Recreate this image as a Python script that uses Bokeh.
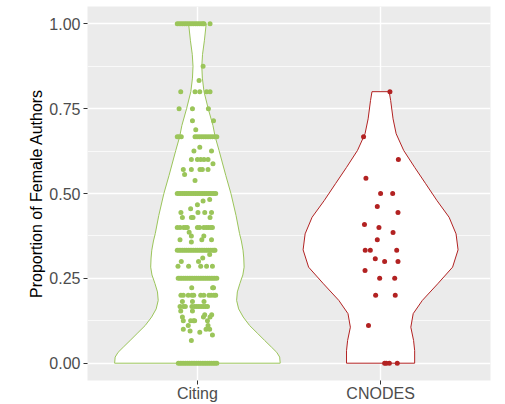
from bokeh.plotting import figure
from bokeh.models import FactorRange, Range1d, FixedTicker, NumeralTickFormatter
from bokeh.embed import file_html
from bokeh.resources import INLINE

# ---------------- data ----------------
categories = ["Citing", "CNODES"]
colors = ["#9BC55A", "#B22222"]

y_ticks = [0.0, 0.25, 0.5, 0.75, 1.0]
y_minor = [0.125, 0.375, 0.625, 0.875]

# violin outlines: y level and half width (category units)
citing_violin_y = [0.0, 0.018, 0.032, 0.047, 0.067, 0.0875, 0.111, 0.136, 0.16, 0.185,
                   0.21, 0.235, 0.26, 0.283, 0.31, 0.333, 0.36, 0.382, 0.435, 0.5,
                   0.553, 0.627, 0.667, 0.70, 0.75, 0.80, 0.84, 0.875, 0.91, 0.95, 1.0]
citing_violin_hw = [0.452, 0.449, 0.433, 0.405, 0.367, 0.329, 0.285, 0.25, 0.225, 0.214,
                    0.218, 0.232, 0.248, 0.255, 0.253, 0.249, 0.24, 0.23, 0.211, 0.183,
                    0.155, 0.118, 0.097, 0.085, 0.059, 0.036, 0.027, 0.024, 0.028, 0.038, 0.048]

cnodes_violin_y = [0.0, 0.037, 0.067, 0.106, 0.146, 0.185, 0.234, 0.283, 0.334, 0.381,
                   0.43, 0.479, 0.529, 0.577, 0.627, 0.676, 0.72, 0.774, 0.80]
cnodes_violin_hw = [0.186, 0.186, 0.18, 0.165, 0.178, 0.228, 0.312, 0.393, 0.423, 0.412,
                    0.374, 0.308, 0.246, 0.186, 0.126, 0.085, 0.068, 0.055, 0.047]

# jittered points: proportion and horizontal jitter offset
citing_rows = [
    (1.0, [-0.11, -0.1, -0.09, -0.08, -0.07, -0.06, -0.05, -0.04, -0.03, -0.02, -0.01,
           0.0, 0.01, 0.02, 0.03, 0.036, 0.069]),
    (0.875, [0.031]),
    (0.833, [0.009]),
    (0.80, [-0.091, -0.013, 0.013, 0.05, 0.069]),
    (0.75, [-0.1, -0.027, 0.06]),
    (0.714, [-0.027, 0.088]),
    (0.6875, [-0.009]),
    (0.667, [-0.11, -0.1, -0.088, -0.013, -0.002, 0.01, 0.022, 0.034, 0.046, 0.058,
             0.07, 0.082, 0.094, 0.106]),
    (0.636, [0.013]),
    (0.625, [-0.019, 0.077]),
    (0.60, [-0.033, 0.0, 0.018, 0.036, 0.058]),
    (0.588, [0.085]),
    (0.571, [-0.077, -0.033, 0.014, 0.027, 0.058]),
    (0.556, [-0.07]),
    (0.538, [-0.013]),
    (0.5, [-0.11, -0.1, -0.09, -0.08, -0.07, -0.06, -0.05, -0.04, -0.03, -0.02, -0.01,
           0.0, 0.01, 0.02, 0.03, 0.04, 0.05, 0.06, 0.07, 0.08, 0.09, 0.1]),
    (0.482, [0.067]),
    (0.478, [0.031]),
    (0.467, [0.0]),
    (0.455, [-0.037]),
    (0.444, [-0.09, 0.003, 0.04, 0.077]),
    (0.429, [-0.082, -0.033, -0.024, 0.069]),
    (0.40, [-0.11, -0.095, -0.075, -0.064, -0.055, 0.0, 0.012, 0.035, 0.048, 0.06, 0.073, 0.082]),
    (0.386, [-0.045]),
    (0.375, [-0.033, 0.035]),
    (0.364, [-0.095, 0.024, 0.077]),
    (0.357, [-0.033]),
    (0.333, [-0.11, -0.1, -0.09, -0.08, -0.07, -0.06, -0.05, -0.04, -0.03, -0.02, -0.01,
             0.0, 0.01, 0.02, 0.03, 0.04, 0.05, 0.06, 0.07, 0.08, 0.09, 0.096]),
    (0.32, [0.067]),
    (0.31, [0.029]),
    (0.30, [-0.088, 0.006]),
    (0.286, [-0.106, -0.048, 0.018, 0.05, 0.082]),
    (0.25, [-0.105, -0.095, -0.085, -0.075, -0.065, -0.055, -0.045, -0.035, -0.025, -0.015,
            -0.005, 0.005, 0.015, 0.025, 0.035, 0.045, 0.055, 0.065, 0.075, 0.085, 0.095, 0.106]),
    (0.222, [-0.031, 0.083, 0.088]),
    (0.2, [-0.09, -0.077, -0.05, -0.03, -0.02, 0.018, 0.035, 0.063, 0.075, 0.09, 0.1]),
    (0.182, [-0.082, -0.027, 0.036]),
    (0.167, [-0.095, -0.077, -0.066, -0.03, -0.016, -0.004, 0.008, 0.02, 0.032, 0.044, 0.055]),
    (0.154, [-0.091, -0.027]),
    (0.143, [0.04, 0.078]),
    (0.136, [-0.082, 0.033, 0.069]),
    (0.125, [-0.077, -0.037, -0.022, -0.015, 0.055]),
    (0.111, [-0.05, 0.058]),
    (0.1, [-0.077, 0.047, 0.067]),
    (0.095, [-0.04]),
    (0.091, [0.013]),
    (0.083, [0.082]),
    (0.067, [-0.033]),
    (0.0, [-0.104, -0.094, -0.084, -0.074, -0.064, -0.054, -0.044, -0.034, -0.024, -0.014,
           -0.004, 0.006, 0.016, 0.026, 0.036, 0.046, 0.056, 0.066, 0.076, 0.086, 0.096, 0.106]),
]

cnodes_y = [0.8, 0.667, 0.6, 0.545, 0.5, 0.5, 0.462, 0.444, 0.409, 0.4, 0.385, 0.364,
            0.333, 0.333, 0.333, 0.308, 0.3, 0.3, 0.273, 0.25, 0.25, 0.2, 0.2, 0.111,
            0.0, 0.0, 0.0, 0.0]
cnodes_dx = [0.051, -0.093, 0.097, -0.08, 0.0, 0.066, -0.018, 0.095, -0.088, -0.009,
             0.068, -0.018, -0.084, -0.056, 0.088, -0.029, 0.022, 0.095, -0.085, -0.005,
             0.077, -0.027, 0.08, -0.066, 0.022, 0.031, 0.048, 0.091]

# ---------------- figure ----------------
FONT = "Liberation Sans"

p = figure(width=505, height=404,
           x_range=FactorRange(factors=categories, range_padding=0.1,
                               range_padding_units="absolute"),
           y_range=Range1d(-0.051, 1.051),
           output_backend="svg", toolbar_location=None,
           min_border_left=87, min_border_right=15, min_border_top=6, min_border_bottom=24)

p.background_fill_color = "#EBEBEB"
p.border_fill_color = "white"
p.outline_line_color = None

p.yaxis.ticker = FixedTicker(ticks=y_ticks, minor_ticks=y_minor)
p.yaxis.formatter = NumeralTickFormatter(format="0.00")
p.yaxis.axis_label = "Proportion of Female Authors"
p.yaxis.axis_label_text_font = FONT
p.yaxis.axis_label_text_font_size = "16px"
p.yaxis.axis_label_text_font_style = "normal"
p.yaxis.axis_label_text_color = "black"
p.yaxis.axis_label_standoff = 1

for ax in (p.xaxis[0], p.yaxis[0]):
    ax.axis_line_color = None
    ax.major_tick_line_color = "#333333"
    ax.major_tick_line_width = 1
    ax.major_tick_out = 4
    ax.major_tick_in = 0
    ax.minor_tick_line_color = None
    ax.major_label_text_font = FONT
    ax.major_label_text_font_size = "16px"
    ax.major_label_text_color = "#4D4D4D"
p.yaxis.major_label_standoff = 3
p.xaxis.major_label_standoff = 0

p.xgrid.grid_line_color = "white"
p.xgrid.grid_line_width = 1.4
p.ygrid.grid_line_color = "white"
p.ygrid.grid_line_width = 1.4
p.ygrid.minor_grid_line_color = "white"
p.ygrid.minor_grid_line_width = 0.7

# violins
violins = [(citing_violin_y, citing_violin_hw), (cnodes_violin_y, cnodes_violin_hw)]
for cat, color, (vy, vhw) in zip(categories, colors, violins):
    xs = [(cat, h) for h in vhw] + [(cat, -h) for h in reversed(vhw)]
    ys = list(vy) + list(reversed(vy))
    p.patch(x=xs, y=ys, fill_color="white", line_color=color, line_width=1)

# points
cit_x, cit_y = [], []
for yv, offs in citing_rows:
    for d in offs:
        cit_x.append((categories[0], d))
        cit_y.append(yv)
p.scatter(x=cit_x, y=cit_y, size=5, fill_color=colors[0], line_color=None)

cn_x = [(categories[1], d) for d in cnodes_dx]
p.scatter(x=cn_x, y=cnodes_y, size=5, fill_color=colors[1], line_color=None)

open("out.html", "w").write(file_html(p, INLINE))
